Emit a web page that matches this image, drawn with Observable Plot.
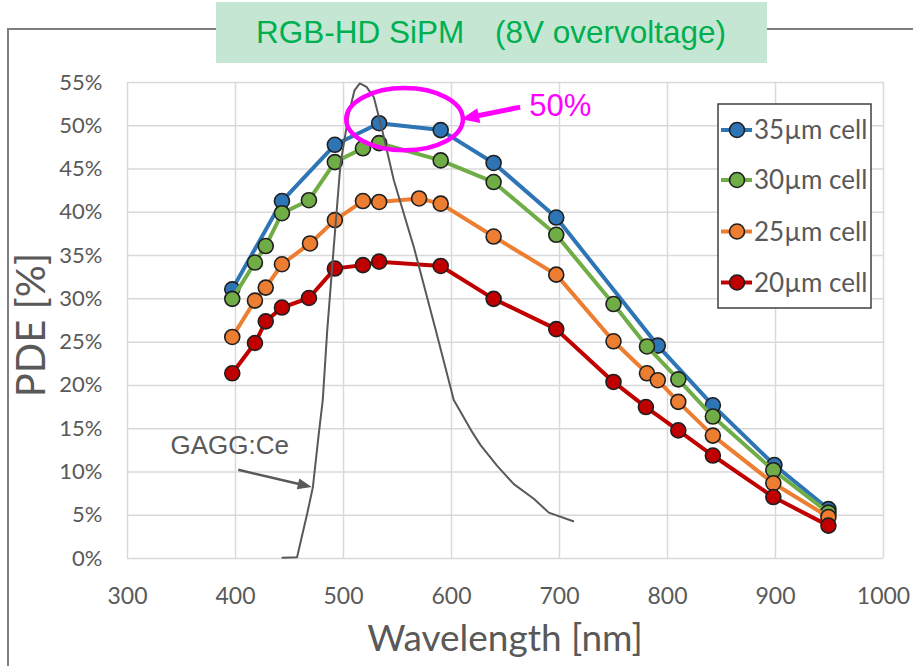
<!DOCTYPE html>
<html><head><meta charset="utf-8">
<script src="https://cdn.jsdelivr.net/npm/d3@7"></script>
<script src="https://cdn.jsdelivr.net/npm/@observablehq/plot@0.6"></script>
<style>body{margin:0;background:#fff;overflow:hidden;}</style>
</head><body><div id="chart"></div>
<script>
// ---- data ----
const seriesNames = ["35µm cell", "30µm cell", "25µm cell", "20µm cell"];
const seriesColors = ["#2E75B6", "#70AD47", "#ED7D31", "#C00000"];

const wl35 = [397, 443, 492, 533, 590, 639, 697, 791, 842, 899, 949];
const pde35 = [31.1, 41.3, 47.8, 50.3, 49.5, 45.7, 39.4, 24.6, 17.7, 10.8, 5.7];

const wl30 = [397, 418, 428, 443, 468, 492, 518, 533, 590, 639, 697, 750, 781, 810, 842, 898, 949];
const pde30 = [30.0, 34.2, 36.1, 39.9, 41.4, 45.8, 47.4, 48.0, 46.0, 43.5, 37.4, 29.4, 24.5, 20.7, 16.4, 10.2, 5.3];

const wl25 = [397, 418, 428, 443, 469, 492, 518, 533, 570, 590, 639, 697, 750, 781, 791, 810, 842, 898, 949];
const pde25 = [25.6, 29.8, 31.3, 34.0, 36.4, 39.1, 41.3, 41.2, 41.6, 41.0, 37.2, 32.8, 25.1, 21.4, 20.6, 18.1, 14.2, 8.7, 4.8];

const wl20 = [397, 418, 428, 443, 468, 492, 518, 533, 590, 639, 697, 750, 780, 810, 842, 898, 949];
const pde20 = [21.4, 24.9, 27.4, 29.0, 30.1, 33.5, 33.9, 34.3, 33.8, 30.0, 26.5, 20.4, 17.5, 14.8, 11.9, 7.1, 3.8];

// GAGG:Ce emission spectrum (plotted on the same axis, arbitrary scale)
const gaggWl = [443.5, 457, 466.4, 471.6, 477.1, 480.8, 484.9, 491.0, 497.2, 504.9, 510.2, 515.1, 521.3, 528.1, 535.8, 546.6, 565.1, 585.2, 602.1, 619.2, 626.9, 642.3, 657.7, 676.2, 690.1, 712.7];
const gaggVal = [0.1, 0.15, 5.2, 8.2, 14.4, 18.3, 26.3, 36.0, 45.6, 51.4, 54.1, 54.9, 54.5, 53.3, 49.5, 43.7, 36.0, 26.5, 18.3, 14.6, 13.1, 10.7, 8.6, 6.9, 5.3, 4.3];

const xTicks = [300, 400, 500, 600, 700, 800, 900, 1000];
const yTicks = [0, 5, 10, 15, 20, 25, 30, 35, 40, 45, 50, 55];

const titleText = ["RGB-HD SiPM", "(8V overvoltage)"];
const xLabel = "Wavelength [nm]";
const yLabel = "PDE [%]";
const gaggLabel = ["GAGG:Ce"];
const gaggLabelPos = [[339.8, 12.1]];
const peakLabel = ["50%"];
const peakLabelPos = [[672, 51.1]];
const peakEllipse = {cx: 557, cy: 50.7, rx: 54, ry: 3.6};
const peakArrow = {from: [664, 52.1], to: [609.4, 50.7]};
const gaggArrow = {from: [403, 10.2], to: [471, 8.2]};

// ---- build tables ----
const wls = [wl35, wl30, wl25, wl20];
const pdes = [pde35, pde30, pde25, pde20];
const series = seriesNames.map((name, i) => ({
  name, color: seriesColors[i],
  rows: wls[i].map((w, j) => ({wl: w, pde: pdes[i][j]}))
}));
const gagg = gaggWl.map((w, i) => ({wl: w, v: gaggVal[i]}));

const plot = Plot.plot({
  width: 913, height: 666,
  marginLeft: 127, marginRight: 30, marginTop: 82, marginBottom: 108,
  style: {fontFamily: "Lato, sans-serif", fontSize: "22px", color: "#595959", background: "#fff", overflow: "visible"},
  x: {domain: [300, 1000], label: null},
  y: {domain: [0, 55], label: null},
  marks: [
    Plot.gridX(xTicks, {stroke: "#d9d9d9", strokeOpacity: 1, strokeWidth: 1.5}),
    Plot.gridY(yTicks, {stroke: "#d9d9d9", strokeOpacity: 1, strokeWidth: 1.5}),
    Plot.axisX(xTicks, {anchor: "bottom", tickSize: 0, tickPadding: 29, fontSize: 23, tickFormat: d => String(d), label: null}),
    Plot.axisY(yTicks, {anchor: "left", tickSize: 0, tickPadding: 25, fontSize: 22, tickFormat: d => d + "%", label: null}),
    ...series.flatMap(s => [
      Plot.line(s.rows, {x: "wl", y: "pde", stroke: s.color, strokeWidth: 4, strokeLinejoin: "round"}),
      Plot.dot(s.rows, {x: "wl", y: "pde", r: 7.5, fill: s.color, stroke: "#1f1f1f", strokeWidth: 1.6})
    ]),
    Plot.line(gagg, {x: "wl", y: "v", stroke: "#595959", strokeWidth: 2}),
    Plot.text(gaggLabel, {x: (d, i) => gaggLabelPos[i][0], y: (d, i) => gaggLabelPos[i][1], text: d => d,
      textAnchor: "start", lineAnchor: "bottom", fontSize: 26, fontFamily: "Liberation Sans, Arial, sans-serif", fill: "#595959"}),
    Plot.text(peakLabel, {x: (d, i) => peakLabelPos[i][0], y: (d, i) => peakLabelPos[i][1], text: d => d,
      textAnchor: "start", lineAnchor: "bottom", fontSize: 31, fontFamily: "Liberation Sans, Arial, sans-serif", fill: "#FF00FF"})
  ]
});

const sx = plot.scale("x"), sy = plot.scale("y");
const X = v => sx.apply(v), Y = v => sy.apply(v);
const svg = d3.select(plot);

// outer frame + title box
svg.insert("rect", ":first-child").attr("x", 8).attr("y", 29).attr("width", 1200).attr("height", 1200)
  .attr("fill", "none").attr("stroke", "#7f7f7f").attr("stroke-width", 2);
svg.append("rect").attr("x", 216).attr("y", 2).attr("width", 551).attr("height", 61).attr("fill", "#C5E6D3");
const tt = svg.append("text").attr("y", 43).attr("fill", "#00B050").attr("text-anchor", "start")
  .style("font-family", "Liberation Sans, Arial, sans-serif").style("font-size", "31.5px");
tt.append("tspan").attr("x", 256).text(titleText[0]);
tt.append("tspan").attr("x", 495).text(titleText[1]);

// axis titles
svg.append("text").attr("x", 505).attr("y", 651).attr("text-anchor", "middle")
  .style("font-family", "Lato, sans-serif").style("font-size", "37px").attr("fill", "#595959").text(xLabel);
svg.append("text").attr("transform", "translate(45,325) rotate(-90)").attr("text-anchor", "middle")
  .style("font-family", "Lato, sans-serif").style("font-size", "40px").attr("fill", "#595959").text(yLabel);

// arrows
function arrow(from, to, color, w, hl, hw) {
  const x0 = X(from[0]), y0 = Y(from[1]), x1 = X(to[0]), y1 = Y(to[1]);
  const dx = x1 - x0, dy = y1 - y0, L = Math.hypot(dx, dy), ux = dx / L, uy = dy / L;
  const bx = x1 - ux * hl, by = y1 - uy * hl;
  svg.append("line").attr("x1", x0).attr("y1", y0).attr("x2", bx + ux).attr("y2", by + uy)
    .attr("stroke", color).attr("stroke-width", w);
  svg.append("path").attr("d", `M${x1},${y1}L${bx - uy * hw / 2},${by + ux * hw / 2}L${bx + uy * hw / 2},${by - ux * hw / 2}Z`)
    .attr("fill", color);
}
arrow(gaggArrow.from, gaggArrow.to, "#595959", 2.5, 14, 11);

// peak ellipse + arrow
svg.append("ellipse").attr("cx", X(peakEllipse.cx)).attr("cy", Y(peakEllipse.cy))
  .attr("rx", X(peakEllipse.cx + peakEllipse.rx) - X(peakEllipse.cx))
  .attr("ry", Y(peakEllipse.cy - peakEllipse.ry) - Y(peakEllipse.cy))
  .attr("fill", "none").attr("stroke", "#FF00FF").attr("stroke-width", 4.5);
arrow(peakArrow.from, peakArrow.to, "#FF00FF", 5, 18, 15);

// legend
const lg = svg.append("g");
lg.append("rect").attr("x", 718).attr("y", 104).attr("width", 153).attr("height", 204)
  .attr("fill", "#fff").attr("stroke", "#404040").attr("stroke-width", 1.5);
const legY = [130, 180, 231.5, 282.5];
series.forEach((s, i) => {
  lg.append("line").attr("x1", 721).attr("x2", 752).attr("y1", legY[i]).attr("y2", legY[i])
    .attr("stroke", s.color).attr("stroke-width", 4);
  lg.append("circle").attr("cx", 737).attr("cy", legY[i]).attr("r", 7.5)
    .attr("fill", s.color).attr("stroke", "#1f1f1f").attr("stroke-width", 1.6);
  lg.append("text").attr("x", 754).attr("y", legY[i]).attr("dy", "0.36em").attr("text-anchor", "start")
    .style("font-family", "Lato, sans-serif").style("font-size", "26px").attr("fill", "#595959").text(s.name);
});

document.getElementById("chart").appendChild(plot);
</script>
</body></html>
